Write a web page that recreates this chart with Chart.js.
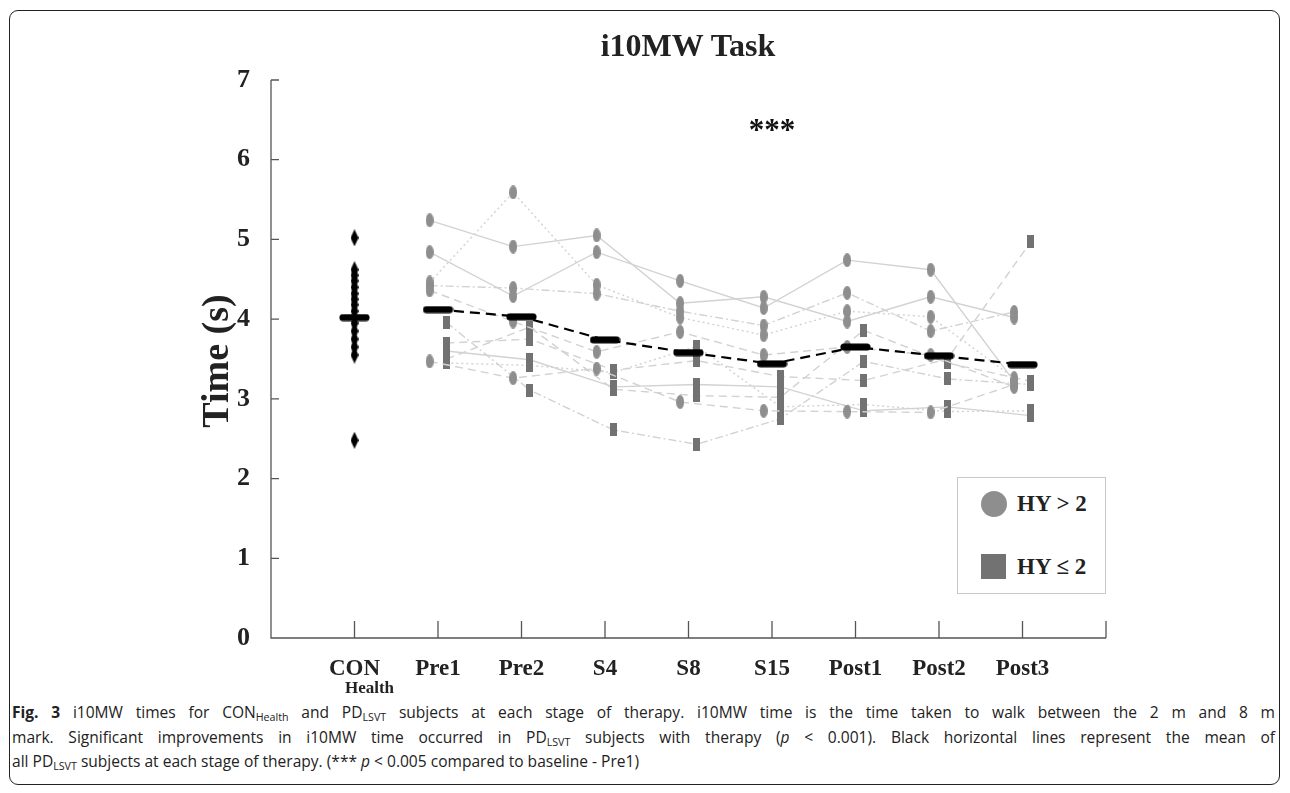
<!DOCTYPE html>
<html>
<head>
<meta charset="utf-8">
<script src="https://cdn.jsdelivr.net/npm/chart.js@4.4.1/dist/chart.umd.min.js"></script>
<style>
  html, body { margin:0; padding:0; background:#fff; }
  body { width:1290px; height:793px; position:relative; overflow:hidden; }
  #frame { position:absolute; left:9px; top:10px; width:1271px; height:775px; border:1.5px solid #222; border-radius:9px; box-sizing:border-box; }
  #wrap { position:absolute; left:0; top:0; width:1290px; height:700px; }
  #title { position:absolute; left:488px; width:400px; top:27px; text-align:center; font:bold 32px "Liberation Serif", "DejaVu Serif", serif; color:#222; }
  #ytitle { position:absolute; left:115px; top:340px; width:200px; text-align:center; font:bold 38px "Liberation Serif", serif; color:#222; transform:rotate(-90deg); transform-origin:center center; line-height:42px; }
  #legend { position:absolute; left:957px; top:477px; width:149px; height:117px; border:1.2px solid #c8c8c8; box-sizing:border-box; background:#fff; }
  .lgm { position:absolute; }
  .lgt { position:absolute; font:bold 23px "Liberation Serif", serif; color:#222; white-space:nowrap; line-height:26px; }
  .cl { position:absolute; left:12px; white-space:nowrap; font:16px "Open Sans", sans-serif; color:#222; transform-origin:0 50%; line-height:20px; }
  .cl sub { font-size:11px; vertical-align:-3px; line-height:0; }
</style>
</head>
<body>
<div id="frame"></div>
<div id="wrap"><canvas id="c"></canvas></div>
<div id="title">i10MW Task</div>
<div id="ytitle">Time (s)</div>
<div id="legend">
  <div class="lgm" style="left:23px;top:13px;width:26px;height:26px;border-radius:50%;background:#8e8e8e;"></div>
  <div class="lgt" style="left:59px;top:13px;">HY &gt; 2</div>
  <div class="lgm" style="left:23px;top:76px;width:25px;height:25px;background:#727272;"></div>
  <div class="lgt" style="left:59px;top:76px;">HY ≤ 2</div>
</div>
<div class="cl" id="l1" style="top:702px;"><b>Fig. 3</b> i10MW times for CON<sub>Health</sub> and PD<sub>LSVT</sub> subjects at each stage of therapy. i10MW time is the time taken to walk between the 2 m and 8 m</div>
<div class="cl" id="l2" style="top:727px;">mark. Significant improvements in i10MW time occurred in PD<sub>LSVT</sub> subjects with therapy (<i>p</i> &lt; 0.001). Black horizontal lines represent the mean of</div>
<div class="cl" id="l3" style="top:751px;">all PD<sub>LSVT</sub> subjects at each stage of therapy. (*** <i>p</i> &lt; 0.005 compared to baseline - Pre1)</div>
<script>
// ---------------- DATA ----------------
const categories = ['CON', 'Pre1', 'Pre2', 'S4', 'S8', 'S15', 'Post1', 'Post2', 'Post3'];
const sessions = ['Pre1', 'Pre2', 'S4', 'S8', 'S15', 'Post1', 'Post2', 'Post3'];
const yTicks = [0, 1, 2, 3, 4, 5, 6, 7];

// Healthy controls (CON_Health)
const conTimes = [5.02, 4.62, 4.55, 4.48, 4.40, 4.32, 4.25, 4.18, 4.10, 3.95, 3.85, 3.75, 3.65, 3.55, 2.48];
const conMean = [4.02];

// PD_LSVT subjects with HY > 2 (circles), one array per subject across sessions
const hyHighS1 = [5.24, 4.91, 5.05, 4.20, 4.28, 3.97, 4.28, 4.02];
const hyHighS2 = [4.84, 4.29, 4.84, 4.48, 4.14, 4.74, 4.62, 3.22];
const hyHighS3 = [4.46, 5.59, 4.43, 4.02, 3.80, 4.10, 4.03, 3.26];
const hyHighS4 = [4.42, 4.39, 4.32, 4.10, 3.92, 4.33, 3.85, 4.09];
const hyHighS5 = [4.36, 3.97, 3.59, 3.84, 3.55, 3.65, 3.55, 3.15];
const hyHighS6 = [3.47, 3.26, 3.38, 2.96, 2.85, 2.84, 2.83, 3.18];

// PD_LSVT subjects with HY <= 2 (squares)
const hyLowS1 = [3.96, 3.11, 2.61, 2.43, 2.75, 3.47, 3.25, 3.18];
const hyLowS2 = [3.50, 3.90, 3.12, 3.04, 3.02, 3.86, 3.45, 3.22];
const hyLowS3 = [3.60, 3.49, 3.15, 3.18, 3.15, 2.85, 2.90, 2.79];
const hyLowS4 = [3.70, 3.75, 3.36, 3.48, 3.28, 3.23, 3.50, 4.97];
const hyLowS5 = [3.45, 3.42, 3.33, 3.66, 2.90, 2.93, 2.84, 2.85];

// Mean of all PD_LSVT subjects per session
const pdMeans = [4.12, 4.03, 3.74, 3.58, 3.44, 3.65, 3.54, 3.43];

const significance = { session: 'S15', label: '***' };

// ---------------- STYLES ----------------
const highSubjects = [hyHighS1, hyHighS2, hyHighS3, hyHighS4, hyHighS5, hyHighS6];
const lowSubjects = [hyLowS1, hyLowS2, hyLowS3, hyLowS4, hyLowS5];
const dashes = { solid: [], dashed: [8, 5], dotted: [2, 3], dashdot: [8, 3, 2, 3] };
const highStyles = ['solid', 'solid', 'dotted', 'dashdot', 'dashed', 'dashed'];
const lowStyles = ['dashdot', 'dashed', 'solid', 'dashed', 'dotted'];
const GREY_LINE = '#d2d2d2';
const CIRCLE_COL = '#8e8e8e';
const SQUARE_COL = '#727272';
const OFFSET = 0.1;
const SERIF = '"Liberation Serif", "DejaVu Serif", serif';

function mk(w, h, draw) {
  const c = document.createElement('canvas'); c.width = w; c.height = h;
  draw(c.getContext('2d'), w, h); return c;
}
const ellipseImg = mk(8, 14, (g, w, h) => { g.fillStyle = CIRCLE_COL; g.beginPath(); g.ellipse(w/2, h/2, w/2, h/2, 0, 0, Math.PI*2); g.fill(); });
const rectImg = mk(7, 13, (g, w, h) => { g.fillStyle = SQUARE_COL; g.fillRect(0, 0, w, h); });
const diamondImg = mk(8, 17, (g, w, h) => { g.fillStyle = '#000'; g.beginPath(); g.moveTo(w/2, 0); g.lineTo(w, h/2); g.lineTo(w/2, h); g.lineTo(0, h/2); g.closePath(); g.fill(); });
const barImg = mk(31, 8, (g, w, h) => { g.fillStyle = '#000'; g.beginPath(); g.arc(4, 4, 3.6, Math.PI/2, Math.PI*1.5); g.lineTo(w-4, 0.4); g.arc(w-4, 4, 3.6, -Math.PI/2, Math.PI/2); g.closePath(); g.fill(); });

const catPos = name => categories.indexOf(name) + 1;

const datasets = [];
highSubjects.forEach((arr, i) => {
  datasets.push({
    data: sessions.map((s, j) => ({ x: catPos(s) - OFFSET, y: arr[j] })),
    showLine: true, borderColor: GREY_LINE, borderWidth: 1.4, borderDash: dashes[highStyles[i]],
    pointStyle: ellipseImg, pointRadius: 5, order: 5
  });
});
lowSubjects.forEach((arr, i) => {
  datasets.push({
    data: sessions.map((s, j) => ({ x: catPos(s) + OFFSET, y: arr[j] })),
    showLine: true, borderColor: GREY_LINE, borderWidth: 1.4, borderDash: dashes[lowStyles[i]],
    pointStyle: rectImg, pointRadius: 5, order: 5
  });
});
datasets.push({
  data: conTimes.map(v => ({ x: catPos('CON'), y: v })),
  showLine: false, pointStyle: diamondImg, pointRadius: 5, order: 3
});
datasets.push({
  data: conMean.map(v => ({ x: catPos('CON'), y: v })),
  showLine: false, pointStyle: barImg, pointRadius: 5, order: 1
});
datasets.push({
  data: sessions.map((s, j) => ({ x: catPos(s), y: pdMeans[j] })),
  showLine: true, borderColor: '#000', borderWidth: 2.2, borderDash: [10, 6],
  pointStyle: barImg, pointRadius: 5, order: 1
});

const axesPlugin = {
  id: 'axesPlugin',
  beforeDatasetsDraw(chart) {
    const { ctx, chartArea: a, scales: { x, y } } = chart;
    ctx.save();
    ctx.strokeStyle = '#555'; ctx.lineWidth = 1.3;
    ctx.beginPath();
    ctx.moveTo(a.left, a.top); ctx.lineTo(a.left, a.bottom); ctx.lineTo(a.right, a.bottom);
    yTicks.forEach(v => { const p = y.getPixelForValue(v); ctx.moveTo(a.left, p); ctx.lineTo(a.left + 8, p); });
    for (let i = 1; i <= categories.length + 1; i++) { const p = x.getPixelForValue(i); ctx.moveTo(p, a.bottom); ctx.lineTo(p, a.bottom - 17); }
    ctx.stroke();
    ctx.restore();
  },
  afterDraw(chart) {
    const { ctx, scales: { x } } = chart;
    ctx.save();
    ctx.fillStyle = '#222';
    ctx.textAlign = 'center';
    ctx.font = 'bold 17px ' + SERIF;
    ctx.textBaseline = 'middle';
    ctx.fillText('Health', x.getPixelForValue(catPos('CON')) + 15, 689);
    ctx.font = 'bold 31px ' + SERIF;
    ctx.textBaseline = 'alphabetic';
    ctx.fillStyle = '#111';
    ctx.fillText(significance.label, x.getPixelForValue(catPos(significance.session)), 140);
    ctx.restore();
  }
};

new Chart(document.getElementById('c'), {
  type: 'scatter',
  data: { datasets },
  plugins: [axesPlugin],
  options: {
    responsive: true, maintainAspectRatio: false, animation: false,
    layout: { padding: { left: 0, right: 184, top: 80, bottom: 0 } },
    plugins: { legend: { display: false }, tooltip: { enabled: false } },
    scales: {
      x: {
        type: 'linear', min: 0, max: categories.length + 1,
        afterFit: s => { s.height = 62; },
        grid: { display: false }, border: { display: false },
        ticks: {
          stepSize: 1, autoSkip: false, maxRotation: 0, padding: 9,
          color: '#222', font: { family: SERIF, size: 23, weight: 'bold' },
          callback: v => categories[v - 1] || ''
        }
      },
      y: {
        type: 'linear', min: 0, max: 7,
        afterFit: s => { s.width = 271; },
        grid: { display: false }, border: { display: false },
        ticks: {
          stepSize: 1, padding: 13, color: '#222',
          font: { family: SERIF, size: 26, weight: 'bold' },
          callback: v => (yTicks.includes(v) ? String(v) : '')
        }
      }
    }
  }
});

// caption: one common condensing factor, first two lines justified to the full width
(function () {
  const el1 = document.getElementById('l1');
  const el3 = document.getElementById('l3');
  const w1 = el1.getBoundingClientRect().width;
  const n1 = (el1.textContent.match(/[ \u00a0]/g) || []).length;
  const s1 = 1263 / (w1 + n1 * 4);
  const s3 = 560 / el3.getBoundingClientRect().width;
  const s = Math.sqrt(s1 * s3);
  ['l1', 'l2', 'l3'].forEach(id => {
    const el = document.getElementById(id);
    if (id !== 'l3') {
      const w = el.getBoundingClientRect().width;
      const n = (el.textContent.match(/[ \u00a0]/g) || []).length;
      el.style.wordSpacing = Math.max(0, (1263 / s - w) / n) + 'px';
    }
    el.style.transform = 'scaleX(' + s + ')';
  });
})();
</script>
</body>
</html>
